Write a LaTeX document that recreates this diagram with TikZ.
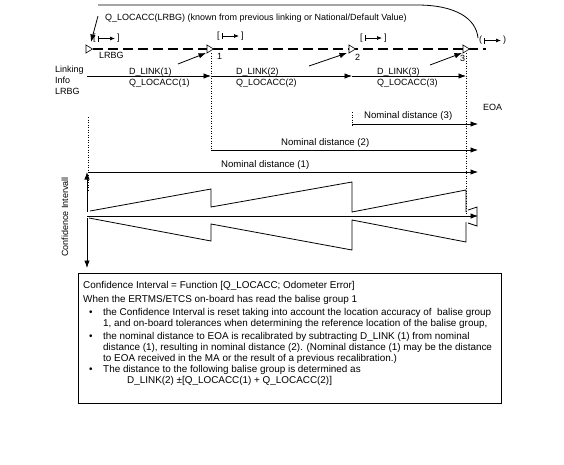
\documentclass[tikz,border=0pt]{standalone}
\usepackage{fontspec}
\setmainfont{Liberation Sans}
\usetikzlibrary{arrows.meta}
\newcommand\SpanMark[5]{%
  \node[txt,anchor=west] (#1o) at (#2,#3) {#4};
  \coordinate (#1a) at (#2+5,#3);
  \coordinate (#1b) at (#2+22,#3);
  \draw[spanarr] (#1a) -- (#1b);
  \node[txt,anchor=west] (#1c) at (#2+24,#3) {#5};
}
\begin{document}
\begin{tikzpicture}[x=1pt,y=-1pt,
  font=\fontsize{9pt}{11pt}\selectfont,
  txt/.style={inner sep=0pt, anchor=base west},
  boxtxt/.style={txt, font=\fontsize{9.9pt}{11pt}\selectfont},
  ndtxt/.style={txt, font=\fontsize{9.6pt}{11pt}\selectfont},
  arr/.style={-{Latex[length=7.5pt,width=5.5pt]}, line width=0.8pt},
  spanarr/.style={{Bar[width=6pt]}-{Latex[length=5pt,width=4pt]}, line width=0.7pt},
  plain/.style={line width=0.8pt},
  dots/.style={line width=0.8pt, dash pattern=on 1pt off 1.5pt},
  track/.style={line width=2pt, dash pattern=on 10pt off 5pt},
  balise/.style={line width=0.6pt, fill=white}
]
\useasboundingbox (0,0) rectangle (564,464);

% top curve
\coordinate (c0) at (98,5);
\coordinate (c1) at (478,38);
\draw[plain] (c0) -- (417,5) .. controls (455,5) and (476,18) .. (c1);
\node[txt] (qlrbg) at (105,20.5) {Q\_LOCACC(LRBG) (known from previous linking or National/Default Value)};
\coordinate (qa) at (98,16);
\coordinate (qb) at (91,42);
\draw[arr] (qa) -- (qb);

% track
\coordinate (t0) at (93,49);
\coordinate (t1) at (486,49);
\draw[track] (t0) -- (t1);

% dotted verticals
\coordinate (dL0) at (88,117); \coordinate (dL1) at (88,190);
\coordinate (d10) at (211,53);  \coordinate (d11) at (211,150);
\coordinate (d20) at (352,112); \coordinate (d21) at (352,127);
\coordinate (d30) at (466,53);  \coordinate (d31) at (466,214);
\draw[dots] (dL0) -- (dL1);
\draw[dots] (d10) -- (d11);
\draw[dots] (d20) -- (d21);
\draw[dots] (d30) -- (d31);

% balises
\coordinate (bL) at (86,49);
\coordinate (b1) at (207,49);
\coordinate (b2) at (349,49);
\coordinate (b3) at (463,49);
\foreach \b in {bL,b1,b2,b3}{
  \draw[balise] (\b) ++(0,-4) -- ++(6.5,4) -- ++(-6.5,4) -- cycle;
}
\node[txt] (lLRBG) at (99,58.5) {LRBG};
\node[txt] (l1) at (217,59) {1};
\node[txt] (l2) at (355,60.5) {2};
\node[txt] (l3) at (460,61) {3};

% span marks
\SpanMark{sL}{93}{38.5}{[}{]}
\SpanMark{s1}{217}{36}{[}{]}
\SpanMark{s2}{360}{38}{[}{]}
\SpanMark{s3}{479}{40.5}{(}{)}

% pointers to balises
\coordinate (a1s) at (178,64); \coordinate (a1e) at (206,53);
\coordinate (a2s) at (309,66); \coordinate (a2e) at (347,53);
\coordinate (a3s) at (430,65); \coordinate (a3e) at (462,53);
\draw[arr] (a1s) -- (a1e);
\draw[arr] (a2s) -- (a2e);
\draw[arr] (a3s) -- (a3e);

% linking info
\node[txt] (li1) at (55,72.5) {Linking};
\node[txt] (li2) at (55,83.5) {Info};
\node[txt] (li3) at (55,94.5) {LRBG};
\coordinate (p0) at (87,76);
\coordinate (p1) at (211,76);
\coordinate (p2) at (352,76);
\coordinate (p3) at (466,76);
\draw[arr] (p0) -- (p1);
\draw[arr] (p1) -- (p2);
\draw[arr] (p2) -- (p3);
\node[txt] (dl1) at (129,74.5) {D\_LINK(1)};
\node[txt] (ql1) at (129,85) {Q\_LOCACC(1)};
\node[txt] (dl2) at (236,74.5) {D\_LINK(2)};
\node[txt] (ql2) at (236,85) {Q\_LOCACC(2)};
\node[txt] (dl3) at (377,74.5) {D\_LINK(3)};
\node[txt] (ql3) at (377,85) {Q\_LOCACC(3)};

% EOA and nominal distances
\node[txt] (eoa) at (483,110.5) {EOA};
\coordinate (n3a) at (352,124); \coordinate (n3b) at (478,124);
\coordinate (n2a) at (211,150); \coordinate (n2b) at (478,150);
\coordinate (n1a) at (88,172);  \coordinate (n1b) at (478,172);
\draw[arr] (n3a) -- (n3b);
\draw[arr] (n2a) -- (n2b);
\draw[arr] (n1a) -- (n1b);
\node[ndtxt] (nd3) at (364,118.5) {Nominal distance (3)};
\node[ndtxt] (nd2) at (281,145.5) {Nominal distance (2)};
\node[ndtxt] (nd1) at (221,167.5) {Nominal distance (1)};

% confidence interval
\coordinate (ciu0) at (87,212); \coordinate (ciu1) at (87,172);
\coordinate (cid0) at (87,218); \coordinate (cid1) at (87,268);
\draw[arr] (ciu0) -- (ciu1);
\draw[arr] (cid0) -- (cid1);
\coordinate (cm0) at (87,216); \coordinate (cm1) at (478,216);
\draw[arr] (cm0) -- (cm1);
\node[rotate=90, inner sep=0pt] (cil) at (65,217) {Confidence Intervall};
\draw[plain] (90,211) -- (211,189) -- (211,207) -- (352,182) -- (352,212) -- (466,190) -- (466,212);
\draw[plain] (89,218) -- (211,241) -- (211,224) -- (352,250) -- (352,220) -- (466,242) -- (466,222);
\draw[plain] (468,210) -- (477,207) -- (477,226) -- (468,223);

% text box
\node[draw, line width=0.8pt, anchor=north west, minimum width=423pt, minimum height=130pt, inner sep=0pt] (box) at (78,273) {};
\node[boxtxt] (t1) at (83,288) {Confidence Interval = Function [Q\_LOCACC; Odometer Error]};
\node[boxtxt] (t2) at (83,302) {When the ERTMS/ETCS on-board has read the balise group 1};
\node[boxtxt] (u1) at (89,315) {•};
\node[boxtxt] (t3) at (103,315) {the Confidence Interval is reset taking into account the location accuracy of\ \ balise group};
\node[boxtxt] (t4) at (103,326) {1, and on-board tolerances when determining the reference location of the balise group,};
\node[boxtxt] (u2) at (89,339) {•};
\node[boxtxt] (t5) at (103,339) {the nominal distance to EOA is recalibrated by subtracting D\_LINK (1) from nominal};
\node[boxtxt] (t6) at (103,350) {distance (1), resulting in nominal distance (2). (Nominal distance (1) may be the distance};
\node[boxtxt] (t7) at (103,361) {to EOA received in the MA or the result of a previous recalibration.)};
\node[boxtxt] (u3) at (89,372) {•};
\node[boxtxt] (t8) at (103,372) {The distance to the following balise group is determined as};
\node[boxtxt] (t9) at (127,383) {D\_LINK(2) ±[Q\_LOCACC(1) + Q\_LOCACC(2)]};
\end{tikzpicture}
\end{document}
